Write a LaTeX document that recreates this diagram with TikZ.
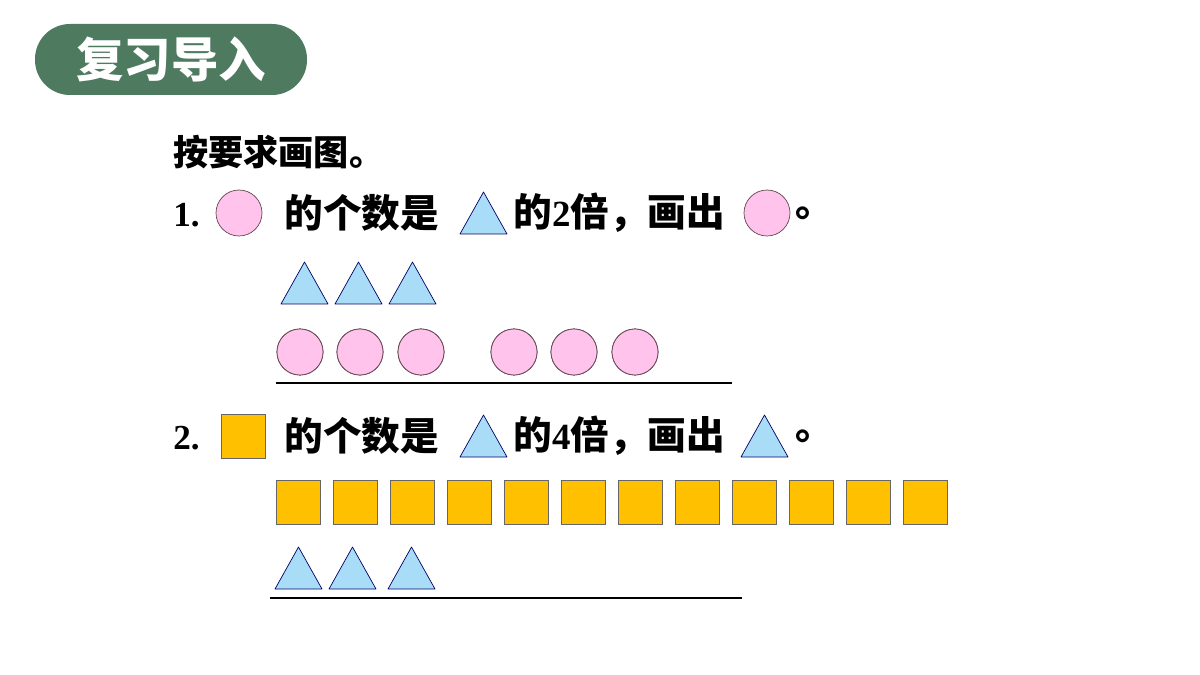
\documentclass[tikz,border=0pt]{standalone}
\usepackage{fontspec}
\setmainfont{Liberation Serif}
\newfontfamily\cjk{Noto Sans CJK SC}
\usetikzlibrary{positioning}
\definecolor{headgreen}{HTML}{4E7A60}
\definecolor{pinkfill}{HTML}{FFC3EC}
\definecolor{bluefill}{HTML}{A9DDF7}
\definecolor{goldfill}{HTML}{FFC000}
\tikzset{
  txt/.style={inner sep=0pt, anchor=west, font=\fontsize{22}{24}\selectfont\bfseries\cjk},
  circ/.style={circle, draw=black!70!magenta, fill=pinkfill, minimum size=0.92cm, inner sep=0pt},
  sq/.style={draw=black!60, fill=goldfill, minimum size=0.88cm, inner sep=0pt},
  tri/.style={draw=blue!40!black, fill=bluefill, line join=round}
}
\newcommand{\tri}[3]{% left x, base y, name
  \draw[tri] (#1,#2) -- ++(47,0) -- ++(-23.5,-42) -- cycle;
  \coordinate (#3) at (#1+23.5,#2-20);}
\begin{document}
\begin{tikzpicture}[x=0.02cm,y=-0.02cm]
\useasboundingbox (0,0) rectangle (1200,675);
% header
\fill[headgreen, rounded corners=0.7cm] (35,24) rectangle (307,95);
\node[font=\fontsize{27}{29}\selectfont\bfseries\cjk, text=white] (head) at (171,59) {复习导入};
% task line
\node[txt, font=\fontsize{20}{22}\selectfont\bfseries\cjk] (task) at (173,152) {按要求画图。};
% question 1
\node[txt, font=\fontsize{20}{22}\selectfont\bfseries] (n1) at (173,215) {1.};
\node[circ] (c0) at (239,213) {};
\node[txt] (q1a) at (284,213) {的个数是};
\tri{460}{234}{t0}
\node[txt] (q1b) at (513,213) {的{\fontsize{21}{23}\selectfont\bfseries\rmfamily 2}倍，画出};
\node[circ] (c1) at (767,213) {};
\node[txt] (dot1) at (795,213) {。};
\foreach \x [count=\i] in {281,335,389} \tri{\x}{304}{ta\i}
\foreach \x [count=\i] in {300,360,421,514,574,635} \node[circ] (ca\i) at (\x,352) {};
\draw[line width=1.2pt] (276,383) -- (732,383);
% question 2
\node[txt, font=\fontsize{20}{22}\selectfont\bfseries] (n2) at (173,438) {2.};
\node[sq] (s0) at (243,436) {};
\node[txt] (q2a) at (284,436) {的个数是};
\tri{460}{457}{t1}
\node[txt] (q2b) at (513,436) {的{\fontsize{21}{23}\selectfont\bfseries\rmfamily 4}倍，画出};
\tri{741}{457}{t2}
\node[txt] (dot2) at (795,436) {。};
\foreach \i in {0,...,11} \node[sq] (sb\i) at (298+\i*57,502) {};
\foreach \x [count=\i] in {275,329,388} \tri{\x}{589}{tb\i}
\draw[line width=1.2pt] (270,598) -- (742,598);
\end{tikzpicture}
\end{document}
